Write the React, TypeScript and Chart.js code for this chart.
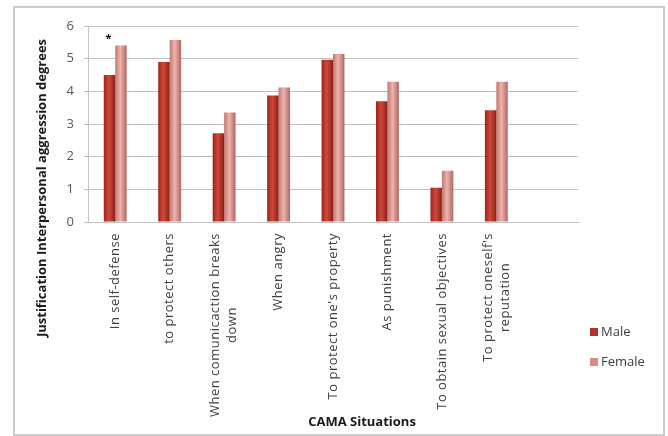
import React, { useEffect, useRef } from "react";
import { Chart, registerables } from "chart.js";

Chart.register(...registerables);

const categories: (string | string[])[] = [
  "In self-defense",
  "to protect others",
  ["When comunicaction breaks", "down"],
  "When angry",
  "To protect one's property",
  "As punishment",
  "To obtain sexual objectives",
  ["To protect oneself's", "reputation"],
  "",
];
const maleValues = [4.5, 4.9, 2.72, 3.87, 4.97, 3.7, 1.05, 3.42, null];
const femaleValues = [5.4, 5.57, 3.35, 4.12, 5.14, 4.29, 1.57, 4.29, null];
const seriesNames = ["Male", "Female"];
const starMarks = ["*", "", "", "", "", "", "", "", ""];
const yTitle = "Justification Interpersonal aggression degrees";
const xTitle = "CAMA Situations";

const FONT = '"Open Sans", "DejaVu Sans", sans-serif';
const maleStops = ["#9a2619", "#d0483a", "#8a2116"];
const femaleStops = ["#c07873", "#f0b2ac", "#b06661"];
const legendColors = ["#b5302a", "#d98a85"];

const gradientPlugin = {
  id: "barGradient",
  beforeDatasetsDraw(chart: any) {
    const ctx = chart.ctx;
    chart.data.datasets.forEach((_: any, di: number) => {
      const meta = chart.getDatasetMeta(di);
      const stops = di === 0 ? maleStops : femaleStops;
      meta.data.forEach((el: any) => {
        if (!el || el.width == null || isNaN(el.x)) return;
        const w = el.width;
        const g = ctx.createLinearGradient(el.x - w / 2, 0, el.x + w / 2, 0);
        g.addColorStop(0, stops[0]);
        g.addColorStop(0.45, stops[1]);
        g.addColorStop(1, stops[2]);
        el.options = Object.assign({}, el.options, { backgroundColor: g });
      });
    });
  },
};

const textPlugin = {
  id: "texts",
  afterDraw(chart: any) {
    const ctx = chart.ctx;
    const xs = chart.scales.x;
    const area = chart.chartArea;
    ctx.save();
    // category labels, rotated, centered multi-line
    ctx.font = "13px " + FONT;
    (ctx as any).letterSpacing = "0.5px";
    ctx.fillStyle = "#404040";
    ctx.textBaseline = "middle";
    ctx.textAlign = "center";
    categories.forEach((lab, i) => {
      const lines = Array.isArray(lab) ? lab : [lab];
      if (!lines.join("")) return;
      const px = xs.getPixelForTick(i);
      const maxW = Math.max(...lines.map((l) => ctx.measureText(l).width));
      ctx.save();
      ctx.translate(px, area.bottom + 11);
      ctx.rotate(-Math.PI / 2);
      lines.forEach((l, j) => {
        ctx.fillText(l, -maxW / 2, (j - (lines.length - 1) / 2) * 17);
      });
      ctx.restore();
    });
    (ctx as any).letterSpacing = "0px";
    // star marks
    ctx.font = "bold 11px " + FONT;
    ctx.fillStyle = "#111";
    const m0 = chart.getDatasetMeta(0).data;
    const m1 = chart.getDatasetMeta(1).data;
    starMarks.forEach((s, i) => {
      if (!s) return;
      const top = Math.min(m0[i].y, m1[i].y);
      ctx.fillText(s, m0[i].x - 1, top - 7);
    });
    // axis titles
    ctx.font = "bold 13px " + FONT;
    ctx.fillStyle = "#1a1a1a";
    ctx.save();
    ctx.translate(42, 188);
    ctx.rotate(-Math.PI / 2);
    ctx.fillText(yTitle, 0, 0);
    ctx.restore();
    ctx.font = "bold 13px " + FONT;
    ctx.fillText(xTitle, 362, 422);
    // legend
    ctx.font = "13px " + FONT;
    ctx.textAlign = "left";
    seriesNames.forEach((n, i) => {
      const cy = 332 + i * 30;
      ctx.fillStyle = legendColors[i];
      ctx.fillRect(590, cy - 4, 8, 8);
      ctx.fillStyle = "#404040";
      ctx.fillText(n, 601, cy);
    });
    ctx.restore();
  },
};

export default function App() {
  const ref = useRef<HTMLCanvasElement>(null);
  useEffect(() => {
    if (!ref.current) return;
    const chart = new Chart(ref.current, {
      type: "bar",
      data: {
        labels: categories.map((c) => (Array.isArray(c) ? c.join(" ") : c)),
        datasets: [
          {
            label: seriesNames[0],
            data: maleValues,
            backgroundColor: legendColors[0],
            borderWidth: 0,
            categoryPercentage: 0.42,
            barPercentage: 1,
          },
          {
            label: seriesNames[1],
            data: femaleValues,
            backgroundColor: legendColors[1],
            borderWidth: 0,
            categoryPercentage: 0.42,
            barPercentage: 1,
          },
        ],
      },
      options: {
        responsive: false,
        animation: false,
        layout: { padding: { top: 26, right: 90, left: 0, bottom: 0 } },
        plugins: { legend: { display: false }, tooltip: { enabled: false } },
        scales: {
          x: {
            grid: { display: false },
            border: { display: true, color: "#c4c4c4", width: 1 },
            ticks: { display: false },
            afterFit: (s: any) => {
              s.height = 436 - 222;
            },
          },
          y: {
            min: 0,
            max: 6,
            ticks: {
              stepSize: 1,
              padding: 10,
              color: "#595959",
              font: { size: 13, family: FONT },
            },
            grid: { color: "#c0c0c0", lineWidth: 1, tickLength: 4, drawTicks: true },
            border: { display: true, color: "#c4c4c4", width: 1 },
            afterFit: (s: any) => {
              s.width = 88;
            },
          },
        },
      },
      plugins: [gradientPlugin, textPlugin],
    });
    return () => chart.destroy();
  }, []);
  return (
    <div style={{ position: "fixed", left: 0, top: 0, width: 668, height: 436, background: "#fff" }}>
      <div
        style={{
          position: "absolute",
          left: 13,
          top: 6,
          width: 648,
          height: 426,
          border: "2px solid #cdcdcd",
        }}
      />
      <canvas
        ref={ref}
        width={668}
        height={436}
        style={{ position: "absolute", left: 0, top: 0, width: 668, height: 436 }}
      />
    </div>
  );
}
